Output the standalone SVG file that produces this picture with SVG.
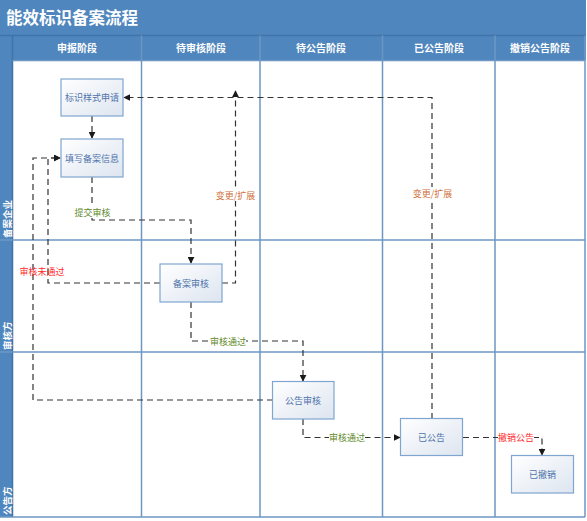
<svg xmlns="http://www.w3.org/2000/svg" width="587" height="521" viewBox="0 0 587 521">
<defs>
<linearGradient id="ng" x1="0" y1="0" x2="1" y2="1">
<stop offset="0" stop-color="#ffffff"/>
<stop offset="1" stop-color="#dde5f0"/>
</linearGradient>
<marker id="ah" viewBox="0 0 10 10" refX="9" refY="5" markerWidth="7" markerHeight="7" markerUnits="userSpaceOnUse" orient="auto">
<path d="M0,0 L10,5 L0,10 z" fill="#1a1a1a"/>
</marker>
<style>
.hdr{fill:#4f86bd}
.grid{stroke:#6c97c4;stroke-width:1.5;fill:none}
.title{font-family:"Noto Sans CJK SC","Liberation Sans",sans-serif;font-size:16.5px;font-weight:bold;fill:#ffffff}
.col{font-family:"Noto Sans CJK SC","Liberation Sans",sans-serif;font-size:10px;font-weight:bold;fill:#ffffff;text-anchor:middle}
.lane{font-family:"Noto Sans CJK SC","Liberation Sans",sans-serif;font-size:9.5px;font-weight:bold;fill:#ffffff}
.node rect{fill:url(#ng);stroke:#7fa6d0;stroke-width:1.2}
.node text{font-family:"Noto Sans CJK SC","Liberation Sans",sans-serif;font-size:9px;fill:#4f73ab;text-anchor:middle;dominant-baseline:central}
.con path{fill:none;stroke:#333333;stroke-width:1.2;stroke-dasharray:6 4}
.lbl{font-family:"Noto Sans CJK SC","Liberation Sans",sans-serif;font-size:9px;text-anchor:middle;dominant-baseline:central}
.g{fill:#5f8a2a}
.r{fill:#ff2a2a}
.o{fill:#d0703a}
</style>
</defs>
<rect x="0" y="0" width="587" height="521" fill="#ffffff"/>
<!-- header -->
<rect class="hdr" x="0" y="0" width="586" height="60"/>
<rect class="hdr" x="0" y="60" width="12.5" height="457"/>
<text class="title" x="6" y="23.5">能效标识备案流程</text>
<g class="grid">
<line x1="0" y1="35.5" x2="586" y2="35.5" stroke="#3f74aa"/>
<line x1="12.5" y1="35.5" x2="12.5" y2="517" stroke="#3f74aa"/>
<line x1="12.5" y1="60.5" x2="585" y2="60.5"/>
<line x1="141.5" y1="35.5" x2="141.5" y2="517"/>
<line x1="260" y1="35.5" x2="260" y2="517"/>
<line x1="382.5" y1="35.5" x2="382.5" y2="517"/>
<line x1="495" y1="35.5" x2="495" y2="517"/>
<line x1="585" y1="35.5" x2="585" y2="517"/>
<line x1="0" y1="240" x2="585" y2="240"/>
<line x1="0" y1="352" x2="585" y2="352"/>
<line x1="0" y1="517" x2="585" y2="517"/>
</g>
<text class="col" x="77" y="51.5">申报阶段</text>
<text class="col" x="201" y="51.5">待审核阶段</text>
<text class="col" x="321" y="51.5">待公告阶段</text>
<text class="col" x="439" y="51.5">已公告阶段</text>
<text class="col" x="540" y="51.5">撤销公告阶段</text>
<text class="lane" transform="translate(10.5,238) rotate(-90)">备案企业</text>
<text class="lane" transform="translate(10.5,350) rotate(-90)">审核方</text>
<text class="lane" transform="translate(10.5,515) rotate(-90)">公告方</text>

<g class="con">
<path d="M92,116 L92,138" marker-end="url(#ah)"/>
<path d="M92,177 L92,220 L191,220 L191,263" marker-end="url(#ah)"/>
<path d="M160,283 L48,283 L48,158 L60,158" marker-end="url(#ah)"/>
<path d="M273,400 L33,400 L33,158 L60,158" marker-end="url(#ah)"/>
<path d="M222,283 L235.5,283 L235.5,91" marker-end="url(#ah)"/>
<path d="M432,419 L432,97.5 L124,97.5" marker-end="url(#ah)"/>
<path d="M191,302 L191,341 L303,341 L303,381" marker-end="url(#ah)"/>
<path d="M303,419 L303,437.5 L400,437.5" marker-end="url(#ah)"/>
<path d="M463,437.5 L542,437.5 L542,455" marker-end="url(#ah)"/>
</g>
<rect x="74" y="206" width="37" height="12" fill="#ffffff"/>
<text class="lbl g" x="92.5" y="212.5">提交审核</text>
<text class="lbl r" x="42" y="271.5">审核未通过</text>
<rect x="216" y="189" width="39" height="12" fill="#ffffff"/>
<text class="lbl o" x="235.5" y="195">变更/扩展</text>
<rect x="413" y="187" width="39" height="12" fill="#ffffff"/>
<text class="lbl o" x="432.5" y="193">变更/扩展</text>
<rect x="210" y="335" width="36" height="12" fill="#ffffff"/>
<text class="lbl g" x="228" y="341">审核通过</text>
<rect x="329" y="431.5" width="36" height="12" fill="#ffffff"/>
<text class="lbl g" x="347" y="437.5">审核通过</text>
<rect x="498" y="431.5" width="36" height="12" fill="#ffffff"/>
<text class="lbl r" x="516" y="437.5">撤销公告</text>

<g id="n1" class="node"><rect x="61" y="79" width="62" height="37"/><text x="92" y="97.5">标识样式申请</text></g>
<g id="n2" class="node"><rect x="61" y="139" width="62" height="38"/><text x="92" y="158">填写备案信息</text></g>
<g id="n3" class="node"><rect x="160" y="264" width="62" height="38"/><text x="191" y="283">备案审核</text></g>
<g id="n4" class="node"><rect x="272.5" y="381.5" width="61.5" height="37.5"/><text x="303" y="400">公告审核</text></g>
<g id="n5" class="node"><rect x="400.5" y="418.5" width="62" height="37"/><text x="431.5" y="437">已公告</text></g>
<g id="n6" class="node"><rect x="511.5" y="455.5" width="62" height="37.5"/><text x="542.5" y="474">已撤销</text></g>
</svg>
